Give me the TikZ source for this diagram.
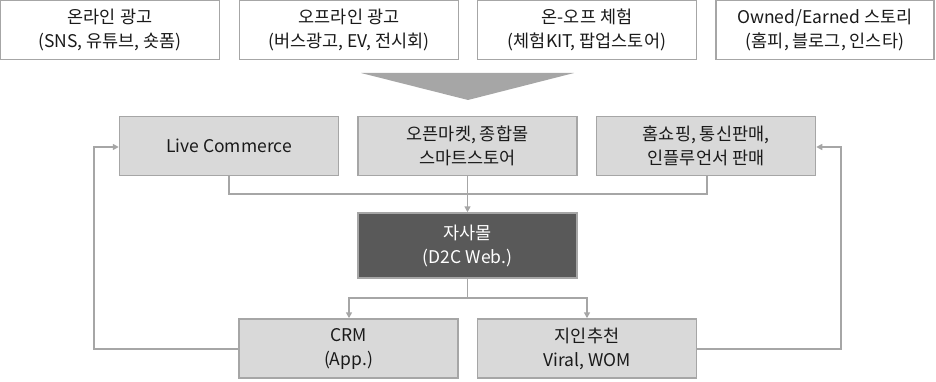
\documentclass[tikz,border=0pt]{standalone}
\usepackage{fontspec}
\setmainfont{Noto Sans CJK KR}
\usetikzlibrary{arrows.meta}
\definecolor{bd}{HTML}{A6A6A6}
\definecolor{lg}{HTML}{D9D9D9}
\definecolor{dg}{HTML}{595959}
\definecolor{tx}{HTML}{1A1A1A}
\tikzset{
  box/.style={draw=bd, line width=1.5pt, minimum width=219pt, minimum height=59pt, inner sep=0pt, align=center, text=tx, font=\fontsize{17.5}{24}\selectfont},
  topbox/.style={box, fill=white},
  midbox/.style={box, fill=lg},
  darkbox/.style={box, fill=dg, minimum height=65pt, text=white},
  conn/.style={draw=bd, line width=1.5pt},
  arr/.style={conn, -{Triangle[length=6pt,width=6pt]}},
}
\begin{document}
\begin{tikzpicture}[x=1pt,y=-1pt]
\useasboundingbox (0,0) rectangle (936,382);
% top row
\node[topbox] (t1) at (110,30) {온라인 광고\\(SNS, 유튜브, 숏폼)};
\node[topbox] (t2) at (349,30) {오프라인 광고\\(버스광고, EV, 전시회)};
\node[topbox] (t3) at (587,30) {온-오프 체험\\(체험KIT, 팝업스토어)};
\node[topbox, minimum width=218pt] (t4) at (825,30) {Owned/Earned 스토리\\(홈피, 블로그, 인스타)};
% big arrow
\fill[bd] (361,73) -- (574,73) -- (468,100) -- cycle;
% middle row
\node[midbox] (m1) at (229,146) {Live Commerce};
\node[midbox] (m2) at (467.5,146) {오픈마켓, 종합몰\\스마트스토어};
\node[midbox] (m3) at (706,146) {홈쇼핑, 통신판매,\\인플루언서 판매};
% own mall
\node[darkbox] (d) at (467.5,245.5) {자사몰\\(D2C Web.)};
% bottom row
\node[midbox] (b1) at (348.5,348.5) {CRM\\(App.)};
\node[midbox] (b2) at (587,348.5) {지인추천\\Viral, WOM};
% coordinates
\coordinate (j1) at (229,194);
\coordinate (j3) at (707,194);
\coordinate (jm) at (467.5,194);
\coordinate (k) at (467.5,298);
\coordinate (k1) at (349,298);
\coordinate (k2) at (587,298);
\coordinate (l1) at (94,349);
\coordinate (l2) at (94,147);
\coordinate (r1) at (841,349);
\coordinate (r2) at (841,147);
% connectors
\draw[conn] (m1.south -| j1) -- (j1) -- (j3) -- (m3.south -| j3);
\draw[arr] (m2.south) -- (d.north);
\draw[conn] (d.south) -- (k);
\draw[arr] (k) -- (k1) -- (b1.north -| k1);
\draw[arr] (k) -- (k2) -- (b2.north -| k2);
\draw[arr] (b1.west |- l1) -- (l1) -- (l2) -- (m1.west |- l2);
\draw[arr] (b2.east |- r1) -- (r1) -- (r2) -- (m3.east |- r2);
\end{tikzpicture}
\end{document}
